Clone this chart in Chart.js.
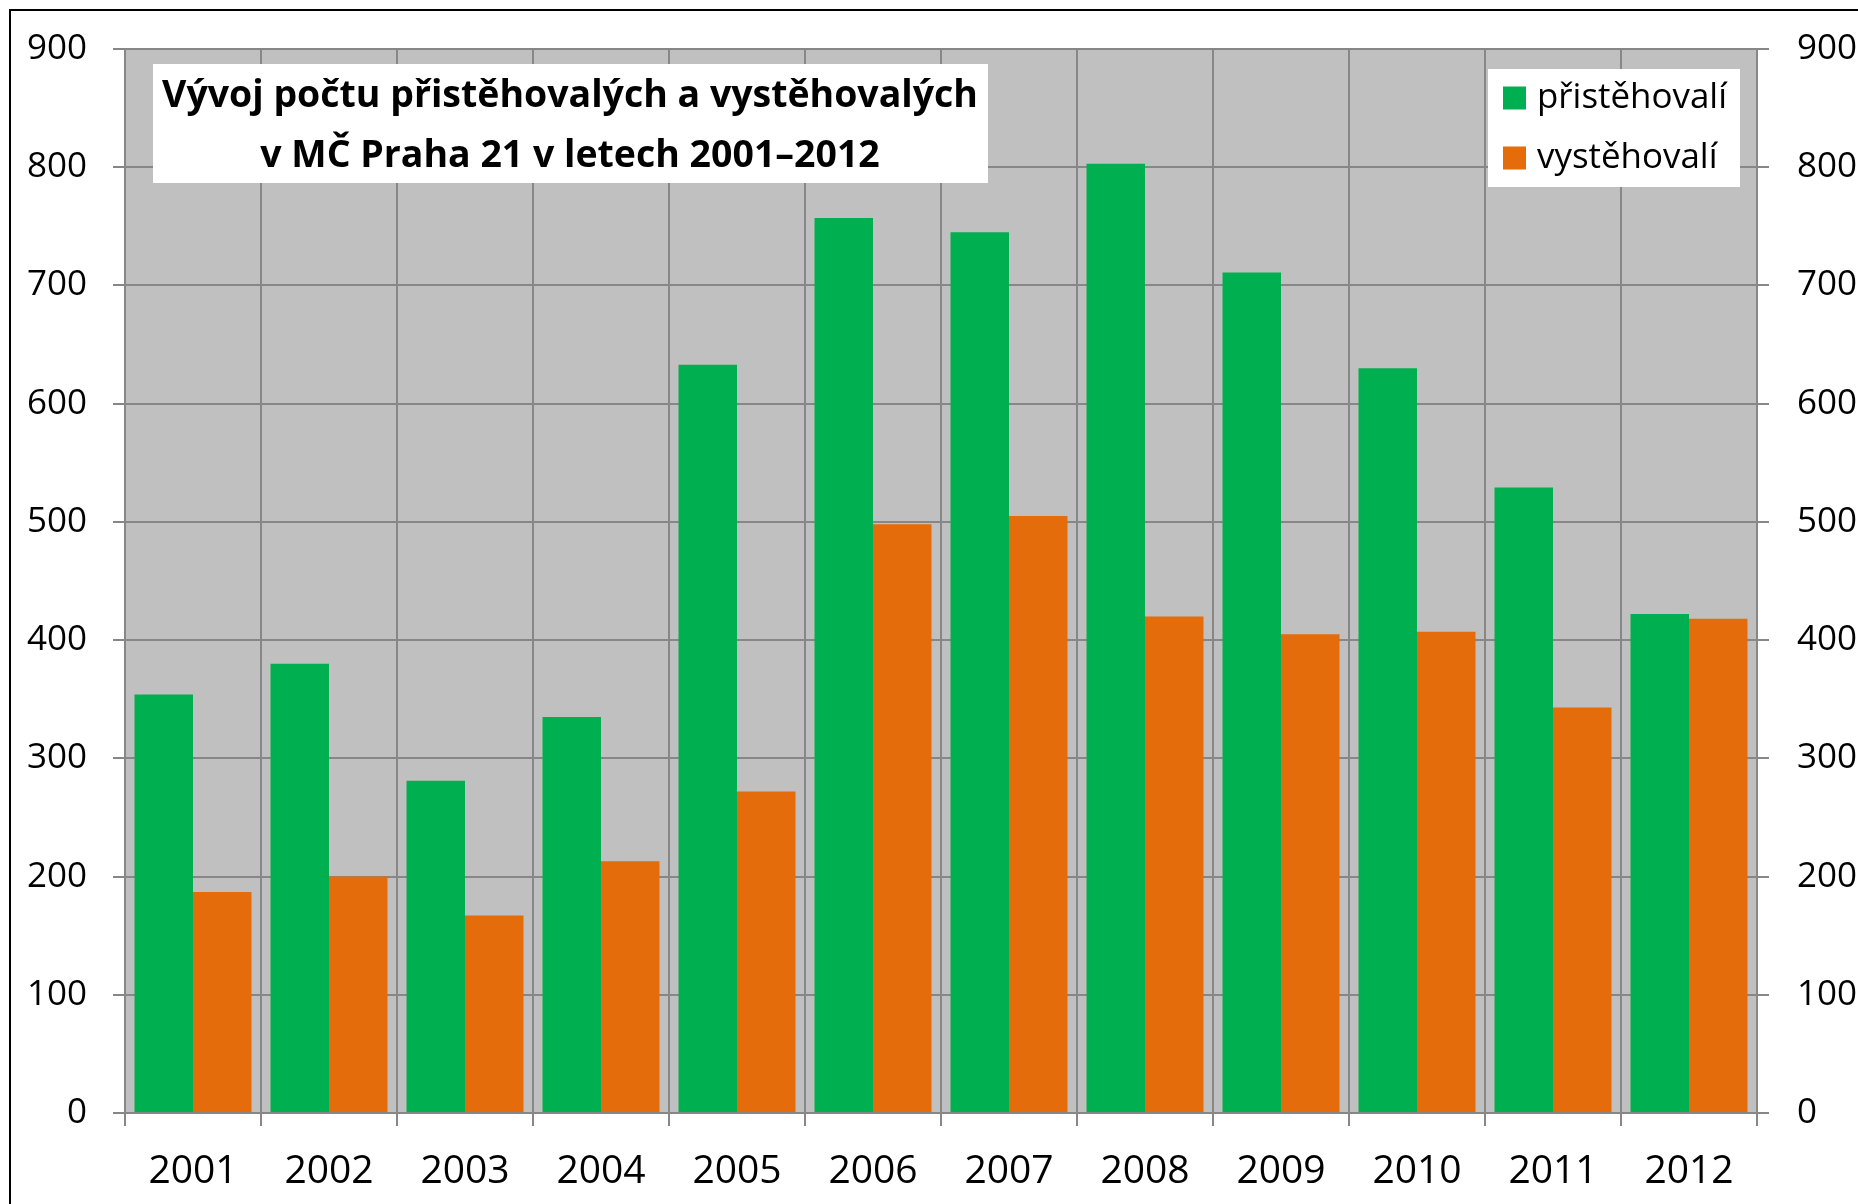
<!DOCTYPE html>
<html>
<head>
<meta charset="utf-8">
<script src="https://cdn.jsdelivr.net/npm/chart.js@4.4.1/dist/chart.umd.min.js"></script>
<style>
  html, body { margin: 0; padding: 0; background: #ffffff; }
  #wrap { width: 1858px; height: 1204px; position: relative; }
</style>
</head>
<body>
<div id="wrap"><canvas id="c" width="1858" height="1204"></canvas></div>
<script>
const categories = ['2001','2002','2003','2004','2005','2006','2007','2008','2009','2010','2011','2012'];
const prist = [354, 380, 281, 335, 633, 757, 745, 803, 711, 630, 529, 422];
const vyst  = [187, 200, 167, 213, 272, 498, 505, 420, 405, 407, 343, 418];
const seriesNames = ['přistěhovalí', 'vystěhovalí'];
const titleLines = ['Vývoj počtu přistěhovalých a vystěhovalých', 'v MČ Praha 21 v letech 2001–2012'];
const yTicks = [0, 100, 200, 300, 400, 500, 600, 700, 800, 900];

const GREEN = '#00B050';
const ORANGE = '#E46C0A';
const GRID = '#878787';
const FONT = '"Open Sans", "Noto Sans", sans-serif';

function fitFont(ctx, text, weight, targetWidth) {
  ctx.font = weight + ' 100px ' + FONT;
  const w = ctx.measureText(text).width;
  return 100 * targetWidth / w;
}

const decorPlugin = {
  id: 'decor',
  beforeDraw(chart) {
    const { ctx, chartArea: a } = chart;
    ctx.save();
    ctx.fillStyle = '#C0C0C0';
    ctx.fillRect(a.left, a.top, a.right - a.left, a.bottom - a.top);
    ctx.restore();
  },
  afterDraw(chart) {
    const ctx = chart.ctx;
    ctx.save();
    // outer border
    ctx.strokeStyle = '#000000';
    ctx.lineWidth = 2;
    ctx.strokeRect(10, 10, 1900, 1300);

    // title box
    ctx.fillStyle = '#ffffff';
    ctx.fillRect(153, 64, 835, 119);
    const ts = fitFont(ctx, titleLines[0], 'bold', 816);
    ctx.font = 'bold ' + ts.toFixed(2) + 'px ' + FONT;
    ctx.fillStyle = '#000000';
    ctx.textAlign = 'center';
    ctx.textBaseline = 'alphabetic';
    ctx.fillText(titleLines[0], 570, 107);
    ctx.fillText(titleLines[1], 570, 167);

    // legend box
    ctx.fillStyle = '#ffffff';
    ctx.fillRect(1488, 69, 252, 118);
    const colors = [GREEN, ORANGE];
    const ys = [98, 158];
    const ls = fitFont(ctx, seriesNames[0], 'normal', 190);
    ctx.font = ls.toFixed(2) + 'px ' + FONT;
    ctx.textAlign = 'left';
    ctx.textBaseline = 'middle';
    for (let i = 0; i < 2; i++) {
      ctx.fillStyle = colors[i];
      ctx.fillRect(1503, ys[i] - 11.5, 23, 23);
      ctx.fillStyle = '#000000';
      ctx.fillText(seriesNames[i], 1537, ys[i]);
    }
    ctx.restore();
  }
};

const gridCommon = { color: GRID, lineWidth: 2 };

new Chart(document.getElementById('c'), {
  type: 'bar',
  data: {
    labels: categories,
    datasets: [
      { label: seriesNames[0], data: prist, backgroundColor: GREEN, borderWidth: 0, yAxisID: 'y' },
      { label: seriesNames[1], data: vyst, backgroundColor: ORANGE, borderWidth: 0, yAxisID: 'y' }
    ]
  },
  options: {
    responsive: false,
    animation: false,
    devicePixelRatio: 1,
    categoryPercentage: 0.86,
    barPercentage: 1.0,
    layout: { padding: { top: 48, left: 0, right: 0, bottom: 0 } },
    plugins: {
      legend: { display: false },
      title: { display: false },
      tooltip: { enabled: false }
    },
    scales: {
      x: {
        grid: { ...gridCommon, offset: true, tickLength: 13, drawOnChartArea: true },
        border: { color: GRID, width: 2 },
        ticks: { color: '#000000', font: { family: FONT, size: 39 }, padding: 22, maxRotation: 0 },
        afterFit(s) { s.height = 91; }
      },
      y: {
        position: 'left',
        min: 0, max: 900,
        afterBuildTicks(s) { s.ticks = yTicks.map(v => ({ value: v })); },
        grid: { ...gridCommon, tickLength: 12 },
        border: { color: GRID, width: 2 },
        ticks: { color: '#000000', font: { family: FONT, size: 35 }, padding: 26 },
        afterFit(s) { s.width = 125; }
      },
      y2: {
        position: 'right',
        min: 0, max: 900,
        afterBuildTicks(s) { s.ticks = yTicks.map(v => ({ value: v })); },
        grid: { ...gridCommon, tickLength: 12, drawOnChartArea: false },
        border: { color: GRID, width: 2 },
        ticks: { color: '#000000', font: { family: FONT, size: 35 }, padding: 28 },
        afterFit(s) { s.width = 101; }
      }
    }
  },
  plugins: [decorPlugin]
});
</script>
</body>
</html>
